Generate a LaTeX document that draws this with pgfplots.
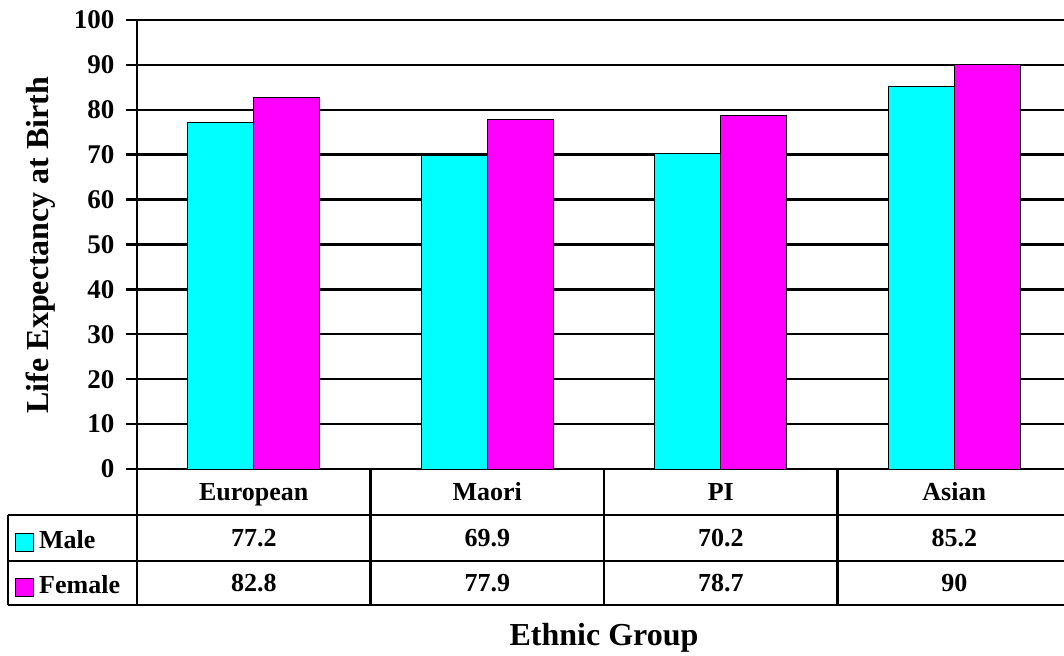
\documentclass[border=0pt]{standalone}
\usepackage{pgfplots}
\pgfplotsset{compat=1.18}
\usepackage{pgfplotstable}
\usepackage{fontspec}
\setmainfont{Liberation Serif}
\definecolor{male}{HTML}{00FFFF}
\definecolor{female}{HTML}{FF00FF}

\pgfplotstableread{
x   male  female
0.5 77.2  82.8
1.5 69.9  77.9
2.5 70.2  78.7
3.5 85.2  90
}\lifedata

\begin{document}
\begin{tikzpicture}[x=1pt,y=1pt]
\path[use as bounding box] (0,0) rectangle (1064,655);
\clip (0,0) rectangle (1064,655);
\begin{axis}[
    at={(137pt,186pt)}, anchor=south west,
    scale only axis, width=927pt, height=449pt,
    xmin=0, xmax=3.970, ymin=0, ymax=100,
    ybar=0pt, bar width=66pt,
    xtick=\empty,
    ytick={0,10,...,100},
    ymajorgrids,
    grid style={black, line width=2.4pt},
    axis line style={draw=none},
    tick pos=left, tick align=outside,
    major tick length=11pt,
    major tick style={black, line width=2.4pt},
    yticklabel style={font=\fontsize{27}{27}\selectfont\bfseries, xshift=-8pt},
    /pgf/number format/assume math mode=true,
    clip=false,
  ]
  \addplot[fill=male, draw=black, line width=0.8pt] table[x=x, y=male] {\lifedata};
  \addplot[fill=female, draw=black, line width=0.8pt] table[x=x, y=female] {\lifedata};
\end{axis}

% data table under the chart
\begin{scope}[line width=2.4pt]
  \draw (137,635) -- (137,50);
  \foreach \xx in {370.5,604,837.5,1071} \draw (\xx,186) -- (\xx,50);
  \draw (8,140) -- (1072,140);
  \draw (8,94) -- (1072,94);
  \draw (8,50) -- (1072,50);
  \draw (8,140) -- (8,50);
\end{scope}

\begin{scope}[font=\fontsize{26}{26}\selectfont\bfseries, every node/.style={anchor=base, inner sep=0pt}]
  \foreach \cx/\name/\m/\f in {253.75/European/77.2/82.8, 487.25/Maori/69.9/77.9,
                               720.75/PI/70.2/78.7, 954.25/Asian/85.2/90} {
    \node at (\cx,154) {\name};
    \node at (\cx,108) {\m};
    \node at (\cx,63.5) {\f};
  }
  \draw[fill=male, line width=0.8pt] (15,104) rectangle (33,122);
  \draw[fill=female, line width=0.8pt] (15,59) rectangle (33,77);
  \node[anchor=base west] at (39,106) {Male};
  \node[anchor=base west] at (39,61) {Female};
\end{scope}

\node[font=\fontsize{32}{32}\selectfont\bfseries] at (604,17) {Ethnic Group};
\node[font=\fontsize{32}{32}\selectfont\bfseries, rotate=90] at (41,410) {Life Expectancy at Birth};
\end{tikzpicture}
\end{document}
